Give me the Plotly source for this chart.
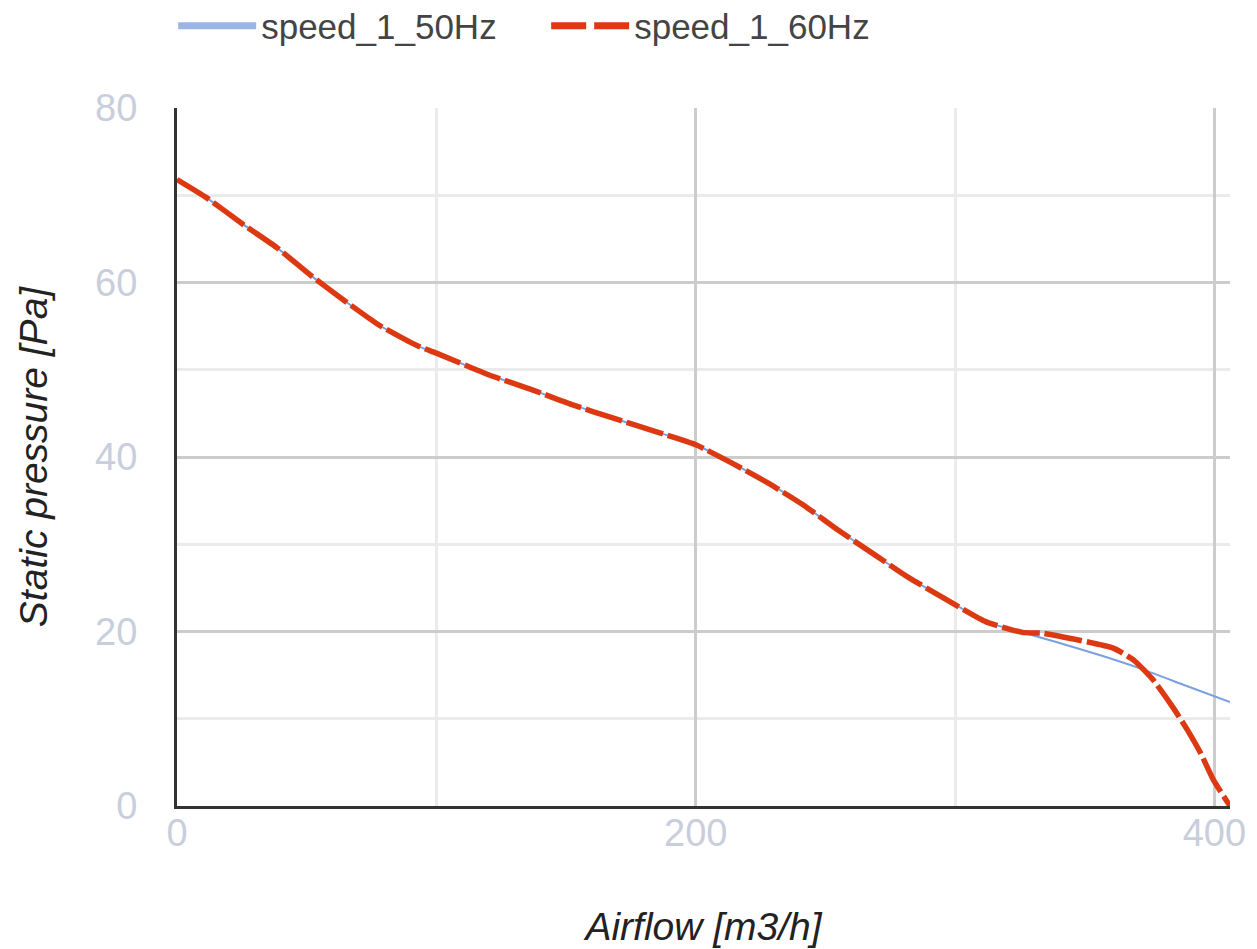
import plotly.graph_objects as go

# Data
airflow_50 = [0, 11.5, 25.8, 38.5, 51.2, 64.2, 78, 92.3, 100, 120.4, 137, 152.3, 167.7, 184.6,
              200, 214, 228, 241.5, 255, 268.5, 282, 297, 312, 326, 339, 355.7, 371, 388, 406]
pressure_50 = [71.8, 69.7, 66.6, 64.0, 60.9, 58.0, 55.1, 52.8, 51.9, 49.4, 47.7, 46.0, 44.5, 42.9,
               41.4, 39.3, 37.0, 34.5, 31.6, 28.9, 26.2, 23.6, 21.1, 19.9, 18.8, 17.3, 15.8, 13.9, 11.9]

airflow_60 = [0, 11.5, 25.8, 38.5, 51.2, 64.2, 78, 92.3, 100, 120.4, 137, 152.3, 167.7, 184.6,
              200, 214, 228, 241.5, 255, 268.5, 282, 297, 312, 326, 334, 348, 361, 369, 376.5,
              384, 389.6, 394.6, 399.6, 406]
pressure_60 = [71.8, 69.7, 66.6, 64.0, 60.9, 58.0, 55.1, 52.8, 51.9, 49.4, 47.7, 46.0, 44.5, 42.9,
               41.4, 39.3, 37.0, 34.5, 31.6, 28.9, 26.2, 23.6, 21.1, 19.9, 19.8, 19.0, 18.1, 16.7, 14.4,
               11.3, 8.7, 6.1, 3.0, 0.0]

series_names = ["speed_1_50Hz", "speed_1_60Hz"]
x_ticks = [0, 200, 400]
y_ticks = [0, 20, 40, 60, 80]

BLUE = "#7a9fe2"
RED = "#dc3912"

fig = go.Figure()
fig.add_trace(go.Scatter(x=airflow_50, y=pressure_50, mode="lines", name=series_names[0],
                         line=dict(color=BLUE, width=2, shape="spline", smoothing=0.5),
                         showlegend=False))
fig.add_trace(go.Scatter(x=airflow_60, y=pressure_60, mode="lines", name=series_names[1],
                         line=dict(color=RED, width=5.5, dash="38px,5px", shape="spline", smoothing=0.5),
                         showlegend=False))
# legend entries
fig.add_trace(go.Scatter(x=[None], y=[None], mode="lines", name=series_names[0],
                         line=dict(color="#9bb6e6", width=7)))
fig.add_trace(go.Scatter(x=[None], y=[None], mode="lines", name=series_names[1],
                         line=dict(color=RED, width=7, dash="35px,8px")))

tick_font = dict(family="Liberation Sans, Arial, sans-serif", size=38, color="#c9cedc")
title_font = dict(family="Liberation Sans, Arial, sans-serif", size=39, color="#222222")

fig.update_layout(
    width=1257, height=949,
    margin=dict(l=169, r=35, t=100, b=151, autoexpand=False),
    paper_bgcolor="white", plot_bgcolor="white",
    showlegend=True,
    legend=dict(orientation="h", xref="container", yref="container",
                x=0.1314, xanchor="left", y=0.981, yanchor="middle",
                font=dict(family="Liberation Sans, Arial, sans-serif", size=35, color="#444444"),
                itemwidth=78, entrywidth=280, bgcolor="rgba(0,0,0,0)"),
    xaxis=dict(range=[0, 406], tickvals=x_ticks, ticktext=[str(v) for v in x_ticks],
               tickfont=tick_font, showgrid=True, gridcolor="#cccccc", gridwidth=3,
               minor=dict(dtick=100, tick0=0, showgrid=True, gridcolor="#ebebeb", gridwidth=3),
               showline=True, linecolor="#333333", linewidth=3, zeroline=False,
               ticks="", ticklabelstandoff=-9, automargin=False,
               title=dict(text="<i>Airflow [m3/h]</i>", font=title_font, standoff=61)),
    yaxis=dict(range=[0, 80], tickvals=y_ticks, ticktext=[str(v) for v in y_ticks],
               tickfont=tick_font, showgrid=True, gridcolor="#cccccc", gridwidth=3,
               minor=dict(dtick=10, tick0=0, showgrid=True, gridcolor="#ebebeb", gridwidth=3),
               showline=True, linecolor="#333333", linewidth=3, zeroline=False,
               ticks="", ticklabelstandoff=29, automargin=False,
               title=dict(text="<i>Static pressure [Pa]</i>", font=title_font, standoff=36)),
)

fig.write_html("out.html")
